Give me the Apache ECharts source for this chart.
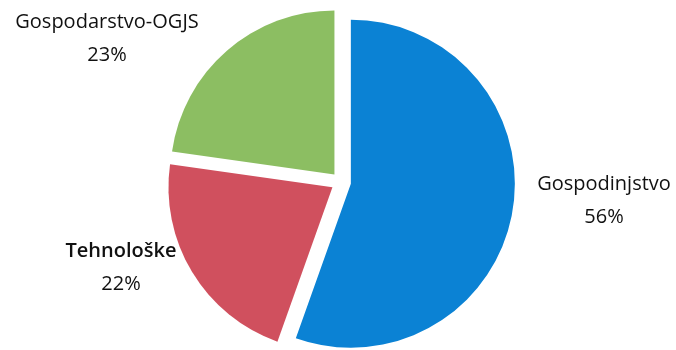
<!DOCTYPE html>
<html>
<head>
<meta charset="utf-8">
<script src="https://cdn.jsdelivr.net/npm/echarts@6/dist/echarts.min.js"></script>
<style>
  html, body { margin: 0; padding: 0; background: #fff; }
  #chart { width: 676px; height: 350px; }
</style>
</head>
<body>
<div id="chart"></div>
<script>
// deleži (clockwise from 12 o'clock)
var categories = ["Gospodinjstvo", "Tehnološke", "Gospodarstvo-OGJS"];
var shares = [56, 22, 23];
var colors = ["#0b82d4", "#d0505e", "#8cbe62"];

// where each label sits (centre of text block)
var labelPos = [[604, 201], [121, 268], [107, 39]];

var txt = { fontFamily: "Open Sans", fontSize: 20, lineHeight: 33, fill: "#111", color: "#111", align: "center" };

function buildData() {
    var out = [];
    for (var i = 0; i < categories.length; i++) {
        out.push({
            name: categories[i],
            value: shares[i],
            selected: true,
            itemStyle: { color: colors[i] }
        });
    }
    return out;
}

// labels as plain text elements
function buildLabels() {
    var out = [];
    for (var i = 0; i < categories.length; i++) {
        out.push({
            type: "text",
            x: labelPos[i][0],
            y: labelPos[i][1],
            silent: true,
            style: {
                text: (i === 1 ? "{b|" : "{n|") + categories[i] + "}\n{n|" + shares[i] + "%}",
                align: "center",
                verticalAlign: "middle",
                rich: {
                    n: txt,
                    b: Object.assign({}, txt, { fontWeight: 600 })
                }
            }
        });
    }
    return out;
}

var myChart = echarts.init(document.getElementById("chart"));
myChart.setOption({
    animation: false,
    graphic: buildLabels(),
    series: [{
        type: "pie",
        center: [341, 182],
        radius: [0, 164],
        startAngle: 90,
        clockwise: true,
        selectedMode: "multiple",
        selectedOffset: 10,
        itemStyle: { borderWidth: 0 },
        label: { show: false },
        labelLine: { show: false },
        emphasis: { disabled: true },
        data: buildData()
    }]
});
</script>
</body>
</html>
